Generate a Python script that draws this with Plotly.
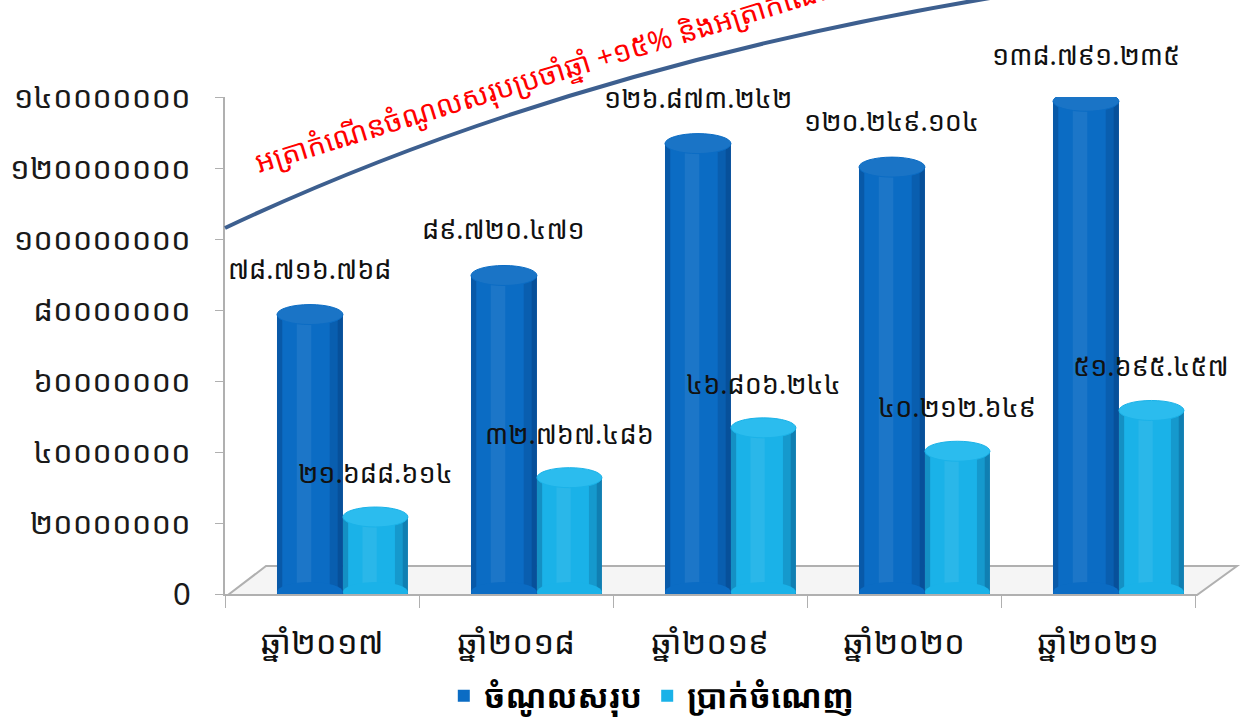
import plotly.graph_objects as go

years = ["ឆ្នាំ២០១៧", "ឆ្នាំ២០១៨", "ឆ្នាំ២០១៩", "ឆ្នាំ២០២០", "ឆ្នាំ២០២១"]
revenue = [78716768, 89720471, 126873242, 120249104, 138791235]
profit = [21688614, 32767486, 46806244, 40212649, 51695457]
series_names = ["ចំណូលសរុប", "ប្រាក់ចំណេញ"]
y_ticks = [0, 20000000, 40000000, 60000000, 80000000, 100000000, 120000000, 140000000]
headline = "អត្រាកំណើនចំណូលសរុបប្រចាំឆ្នាំ +១៥% និងអត្រាកំណើនប្រាក់ចំណេញ"

KH = str.maketrans("0123456789", "០១២៣៤៥៦៧៨៩")


def kh_num(v, sep=True):
    s = f"{v:,}".replace(",", ".") if sep else str(v)
    return s.translate(KH)


FONT = "Noto Sans Khmer, Khmer OS, Khmer OS System, Noto Sans, DejaVu Sans, sans-serif"
DARK = "#0b6cc4"
LIGHT = "#1ab2e8"

W, H = 1249, 721
ML, MR, MT, MB = 225, 54, 97, 127
YMAX = 140000000
plot_h = H - MT - MB
px2val = YMAX / plot_h

# bar geometry (category units)
dark_off, dark_w = -0.232, 0.34
light_off, light_w = 0.108, 0.335

fig = go.Figure()
fig.add_trace(go.Bar(x=years, y=revenue, name=series_names[0], marker=dict(color=DARK, line=dict(width=0)),
                     offset=dark_off, width=dark_w))
fig.add_trace(go.Bar(x=years, y=profit, name=series_names[1], marker=dict(color=LIGHT, line=dict(width=0)),
                     offset=light_off, width=light_w))

# cylinder shading strips (same data, narrower bars)
for vals, off, w in [(revenue, dark_off, dark_w), (profit, light_off, light_w)]:
    for s_off, s_w, s_col in [(0.0, 0.08, "rgba(0,25,70,0.22)"),
                              (0.30, 0.22, "rgba(255,255,255,0.07)"),
                              (0.80, 0.20, "rgba(0,25,70,0.16)"),
                              (0.92, 0.08, "rgba(0,25,70,0.2)")]:
        fig.add_trace(go.Bar(x=years, y=vals, offset=off + w * s_off, width=w * s_w,
                             marker=dict(color=s_col, line=dict(width=0)),
                             showlegend=False, hoverinfo="skip"))

shapes = []


def px(xp):
    return (xp - ML) / (W - ML - MR)


def py(yp):
    return (H - MB - yp) / plot_h


floor = [(228, 595), (1197, 595), (1237, 566), (266, 566)]
path = "M " + " L ".join(f"{px(a)},{py(b)}" for a, b in floor) + " Z"
shapes.append(dict(type="path", xref="paper", yref="paper", path=path,
                   line=dict(color="#b0b0b0", width=2), fillcolor="#f5f5f5", layer="below"))

cap_h = 20 * px2val
for vals, off, w, col, capcol in [(revenue, dark_off, dark_w, DARK, "#1a74c6"),
                                  (profit, light_off, light_w, LIGHT, "#2bbcee")]:
    for i, v in enumerate(vals):
        x0 = i + off
        x1 = i + off + w
        shapes.append(dict(type="circle", xref="x", yref="y", x0=x0, x1=x1,
                           y0=v - cap_h / 2, y1=v + cap_h / 2,
                           fillcolor=capcol, line=dict(color=col, width=1), layer="above"))
        shapes.append(dict(type="circle", xref="x", yref="y", x0=x0, x1=x1,
                           y0=-cap_h / 2 + 2 * px2val, y1=cap_h / 2 + 2 * px2val,
                           fillcolor=col, line=dict(width=0), layer="above"))

# trend curve (quadratic bezier)
p0, c, p1 = (225, 228), (560, 70), (990, -2)
cpath = f"M {px(p0[0])},{py(p0[1])} Q {px(c[0])},{py(c[1])} {px(p1[0])},{py(p1[1])}"
shapes.append(dict(type="path", xref="paper", yref="paper", path=cpath,
                   line=dict(color="#3d5f8f", width=4)))

annotations = []
for vals, off, w, ysh in [(revenue, dark_off, dark_w, 26), (profit, light_off, light_w, 24)]:
    for i, v in enumerate(vals):
        annotations.append(dict(x=i + off + w / 2, xref="x", y=v, yref="y", text=kh_num(v),
                                showarrow=False, yanchor="bottom", yshift=ysh, xshift=0,
                                font=dict(family=FONT, size=27, color="#111111")))

annotations.append(dict(x=px(247), y=py(184), xref="paper", yref="paper", text=headline,
                        showarrow=False, textangle=-17, xanchor="left", yanchor="bottom",
                        font=dict(family=FONT, size=29, color="#ff0000")))

fig.update_layout(
    width=W, height=H,
    margin=dict(l=ML, r=MR, t=MT, b=MB, autoexpand=False),
    paper_bgcolor="white", plot_bgcolor="white",
    barmode="overlay",
    font=dict(family=FONT, color="#111111"),
    shapes=shapes,
    annotations=annotations,
    showlegend=True,
    legend=dict(orientation="h", x=0.44, xanchor="center", y=(H - 696) / H, yref="container",
                yanchor="middle",
                font=dict(family=FONT, size=32, color="#000000", weight="bold"), itemwidth=30,
                traceorder="normal"),
    xaxis=dict(type="category", tickson="boundaries", ticks="outside", ticklen=12,
               tickcolor="#b0b0b0", showline=True, linecolor="#b0b0b0", linewidth=2,
               showgrid=False, tickfont=dict(family=FONT, size=33, color="#111111"),
               range=[-0.5, 4.5], automargin=False, ticklabelstandoff=18),
    yaxis=dict(range=[0, YMAX], tickvals=y_ticks,
               ticktext=[kh_num(v, sep=False) if v else "0" for v in y_ticks],
               ticks="outside", ticklen=8, tickcolor="#b0b0b0", showline=True,
               linecolor="#b0b0b0", linewidth=2, showgrid=False, zeroline=False,
               tickfont=dict(family=FONT, size=31, color="#1a1a1a"), automargin=False,
               ticklabelstandoff=18),
)
fig.update_traces(cliponaxis=False)

fig.write_html("out.html")
